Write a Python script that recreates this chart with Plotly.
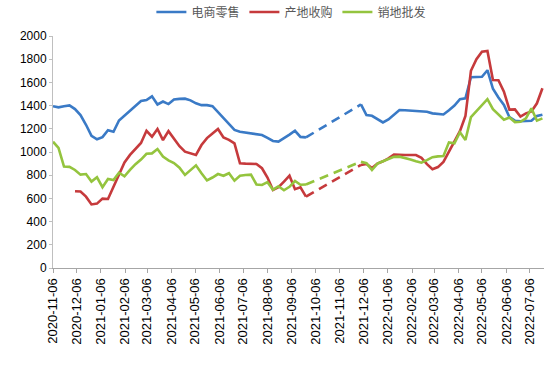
import pandas as pd
import plotly.graph_objects as go

# weekly observation dates (Fridays)
dates = [d.strftime("%Y-%m-%d") for d in pd.date_range("2020-11-06", periods=90, freq="7D")]

# None = no data (gap bridged by dashed line)
ecommerce_retail = [
    1395, 1385, 1395, 1402, 1370, 1318, 1235, 1140, 1110, 1128,
    1188, 1175, 1272, 1315, 1355, 1398, 1440, 1448, 1480, 1410,
    1435, 1413, 1452, 1458, 1460, 1445, 1420, 1404, 1404, 1395,
    1345, 1290, 1240, 1190, 1175, 1167, 1156, 1150, 1146, 1122,
    1095, 1090, 1118, 1150, 1183, 1130, 1126, None, None, None,
    None, None, None, None, None, None, 1410, 1318, 1312, 1285,
    1255, 1280, 1318, 1362, 1360, 1357, 1355, 1352, 1347, 1333,
    1330, 1324, 1360, 1400, 1455, 1462, 1645, 1645, 1648, 1705,
    1545, 1470, 1405, 1300, 1270, 1265, 1265, 1270, 1310, 1322,
]
origin_purchase = [
    None, None, None, None, 662, 659, 615, 548, 555, 598,
    595, 700, 815, 910, 975, 1030, 1078, 1183, 1132, 1198,
    1103, 1180, 1110, 1050, 1003, 990, 975, 1060, 1120, 1160,
    1198, 1126, 1105, 1075, 903, 900, 897, 897, 860, 780,
    672, 696, 745, 796, 680, 696, 616, None, None, None,
    None, None, None, None, None, None, 888, 897, 862, 900,
    920, 945, 978, 974, 974, 974, 974, 950, 895, 851,
    870, 915, 1000, 1090, 1180, 1310, 1700, 1800, 1865, 1871,
    1620, 1619, 1520, 1365, 1367, 1305, 1333, 1350, 1420, 1550,
]
sales_wholesale = [
    1089, 1035, 875, 872, 845, 805, 810, 745, 782, 697,
    768, 758, 822, 790, 845, 895, 935, 985, 988, 1025,
    960, 928, 905, 865, 802, 845, 885, 817, 755, 780,
    810, 795, 817, 753, 795, 802, 805, 720, 716, 740,
    675, 705, 670, 700, 750, 718, 720, None, None, None,
    None, None, None, None, None, None, 917, 903, 845, 900,
    920, 940, 958, 960, 950, 935, 920, 908, 930, 955,
    962, 966, 1083, 1075, 1170, 1103, 1300, 1350, 1400, 1455,
    1370, 1320, 1278, 1298, 1258, 1260, 1290, 1376, 1270, 1290,
]

series_names = ["电商零售", "产地收购", "销地批发"]
colors = ["#3A7AC6", "#C63A3C", "#94C43E"]

tick_labels = [
    "2020-11-06", "2020-12-06", "2021-01-06", "2021-02-06", "2021-03-06",
    "2021-04-06", "2021-05-06", "2021-06-06", "2021-07-06", "2021-08-06",
    "2021-09-06", "2021-10-06", "2021-11-06", "2021-12-06", "2022-01-06",
    "2022-02-06", "2022-03-06", "2022-04-06", "2022-05-06", "2022-06-06",
    "2022-07-06",
]

gap_start, gap_end = 46, 56

fig = go.Figure()
for name, vals, col in zip(series_names, [ecommerce_retail, origin_purchase, sales_wholesale], colors):
    fig.add_trace(go.Scatter(
        x=dates, y=vals, mode="lines", name=name,
        line=dict(color=col, width=2.6), connectgaps=False,
    ))
for name, vals, col in zip(series_names, [ecommerce_retail, origin_purchase, sales_wholesale], colors):
    fig.add_trace(go.Scatter(
        x=[dates[gap_start], dates[gap_end]], y=[vals[gap_start], vals[gap_end]],
        mode="lines", showlegend=False, hoverinfo="skip",
        line=dict(color=col, width=2.6, dash="9px,6px"),
    ))

fig.update_layout(
    width=555, height=365,
    margin=dict(l=53, r=11, t=36, b=97, autoexpand=False),
    paper_bgcolor="white", plot_bgcolor="white",
    font=dict(family="Liberation Sans, Arial, sans-serif", size=12, color="#000000"),
    legend=dict(
        orientation="h", xref="container", yref="container",
        x=0.525, xanchor="center", y=0.967, yanchor="middle",
        font=dict(family="Noto Sans CJK SC, sans-serif", size=12, color="#595959"),
        itemwidth=30, tracegroupgap=0,
    ),
    xaxis=dict(
        type="date", range=["2020-11-06", "2022-07-24"],
        tickmode="array", tickvals=tick_labels, ticktext=tick_labels,
        tickangle=-90, showgrid=False, zeroline=False, automargin=False,
        showline=True, linecolor="#A6A6A6", linewidth=1,
        ticks="outside", ticklen=4, tickcolor="#A6A6A6",
        tickfont=dict(size=13, family="Liberation Sans, Arial, sans-serif"),
    ),
    yaxis=dict(
        range=[0, 2000], dtick=200, tick0=0, automargin=False,
        showgrid=False, zeroline=False,
        showline=True, linecolor="#BFBFBF", linewidth=1,
        ticks="outside", ticklen=3, tickcolor="#BFBFBF",
        tickfont=dict(size=12, family="Liberation Sans, Arial, sans-serif"),
    ),
)

fig.write_html(
    "out.html",
    config={"displayModeBar": False},
    post_script="document.body.style.margin='0';",
)
